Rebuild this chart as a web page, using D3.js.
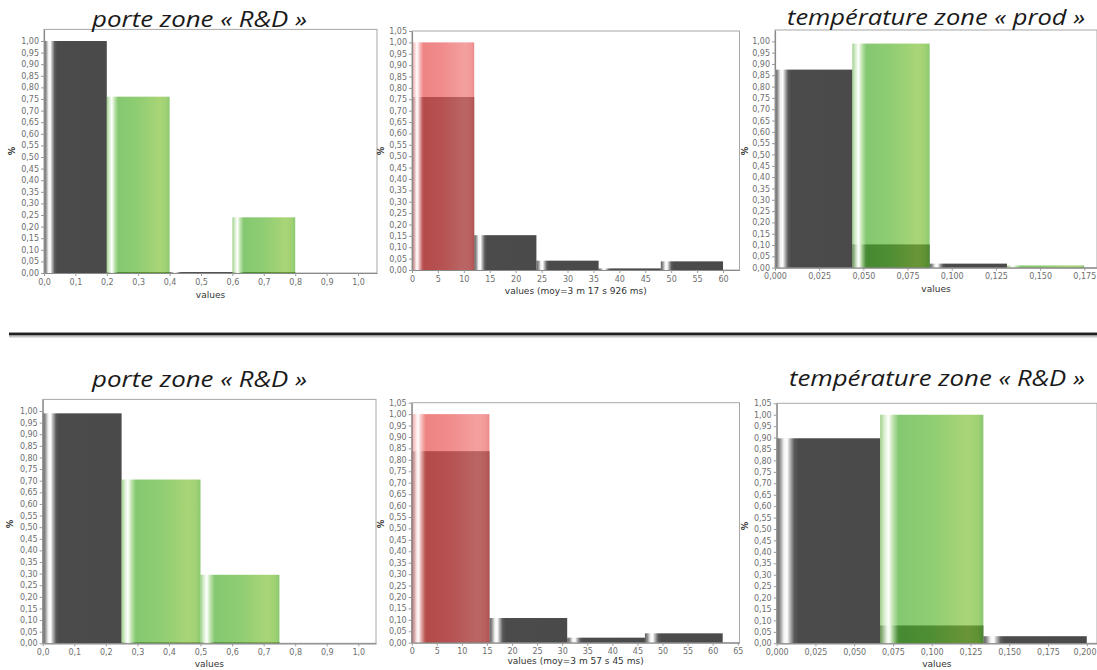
<!DOCTYPE html>
<html><head><meta charset="utf-8">
<script src="https://cdn.jsdelivr.net/npm/d3@7"></script>
<style>body{margin:0;background:#fff}svg{display:block}</style>
</head><body>
<svg id="c" width="1097" height="670"></svg>
<script>
// ---------- data ----------
const titles = ["porte zone « R&D »", "température zone « prod »", "porte zone « R&D »", "température zone « R&D »"];
const xAxisLabels = ["values", "values (moy=3 m 17 s 926 ms)", "values", "values", "values (moy=3 m 57 s 45 ms)", "values"];
const yAxisLabel = "%";

const p1Edges = [0, 0.2, 0.4, 0.6, 0.8, 1.0];
const p1Black = [1.0, 0.004, 0.004, 0.004, 0];
const p1Green = [0, 0.76, 0, 0.24, 0];

const p2Edges = [0, 12, 24, 36, 48, 60];
const p2Black = [0.76, 0.153, 0.041, 0.007, 0.038];
const p2Red = [1.0, 0, 0, 0, 0];

const p3Edges = [0, 0.04375, 0.0875, 0.13125, 0.175];
const p3Black = [0.875, 0.103, 0.018, 0];
const p3Green = [0, 0.99, 0, 0.01];

const p4Edges = [0, 0.25, 0.5, 0.75, 1.0];
const p4Black = [0.99, 0.004, 0.004, 0];
const p4Green = [0, 0.705, 0.295, 0];

const p5Edges = [0, 15.5, 31, 46.5, 62];
const p5Black = [0.838, 0.108, 0.022, 0.041];
const p5Red = [1.0, 0, 0, 0];

const p6Edges = [0, 0.0667, 0.1333, 0.2];
const p6Black = [0.897, 0.078, 0.031];
const p6Green = [0, 1.0, 0];

const yTicksTo100 = [0,0.05,0.1,0.15,0.2,0.25,0.3,0.35,0.4,0.45,0.5,0.55,0.6,0.65,0.7,0.75,0.8,0.85,0.9,0.95,1.0];
const yTicksTo105 = [0,0.05,0.1,0.15,0.2,0.25,0.3,0.35,0.4,0.45,0.5,0.55,0.6,0.65,0.7,0.75,0.8,0.85,0.9,0.95,1.0,1.05];
const xTicksUnit = [0,0.1,0.2,0.3,0.4,0.5,0.6,0.7,0.8,0.9,1.0];
const xTicks60 = [0,5,10,15,20,25,30,35,40,45,50,55,60];
const xTicks65 = [0,5,10,15,20,25,30,35,40,45,50,55,60,65];
const xTicks175 = [0,0.025,0.05,0.075,0.1,0.125,0.15,0.175];
const xTicks200 = [0,0.025,0.05,0.075,0.1,0.125,0.15,0.175,0.2];

// ---------- layout ----------
const panels = [
  {edges:p1Edges, black:p1Black, over:p1Green, kind:"green", L:44, R:377, T:29.4, B:273, xmax:1.0605, xt:xTicksUnit, xd:1, yt:yTicksTo100, lab:xAxisLabels[0], labY:298, yl:[15,151]},
  {edges:p2Edges, black:p2Black, over:p2Red, kind:"red", L:412, R:739.5, T:31, B:270, xmax:63.18, xt:xTicks60, xd:0, yt:yTicksTo105, lab:xAxisLabels[1], labY:294, yl:[384,151]},
  {edges:p3Edges, black:p3Black, over:p3Green, kind:"green", L:775, R:1097, T:30, B:267.7, xmax:0.1822, xt:xTicks175, xd:3, yt:yTicksTo100, lab:xAxisLabels[2], labY:292, yl:[748,151]},
  {edges:p4Edges, black:p4Black, over:p4Green, kind:"green", L:42.7, R:376, T:399.4, B:643.3, xmax:1.056, xt:xTicksUnit, xd:1, yt:yTicksTo100, lab:xAxisLabels[3], labY:667, yl:[13,524]},
  {edges:p5Edges, black:p5Black, over:p5Red, kind:"red", L:411.7, R:739.5, T:402.7, B:642.7, xmax:65.35, xt:xTicks65, xd:0, yt:yTicksTo105, lab:xAxisLabels[4], labY:664, yl:[384,524]},
  {edges:p6Edges, black:p6Black, over:p6Green, kind:"green", L:776.7, R:1097, T:403.3, B:643.3, xmax:0.2066, xt:xTicks200, xd:3, yt:yTicksTo105, lab:xAxisLabels[5], labY:667, yl:[748,526]}
];
const titlePos = [
  {x:199.5, y:27, w:215},
  {x:936, y:25, w:298},
  {x:199.5, y:386.5, w:215},
  {x:937, y:385.5, w:296}
];

const svg = d3.select("#c");
const defs = svg.append("defs");

function grad(id, stops, opacity) {
  const g = defs.append("linearGradient").attr("id", id)
    .attr("x1", 0).attr("x2", 1).attr("y1", 0).attr("y2", 0);
  stops.forEach(s => g.append("stop").attr("offset", s[0]).attr("stop-color", s[1]).attr("stop-opacity", opacity));
}
grad("gBlack", [[0,"#5e5e5e"],[0.03,"#8c8c8c"],[0.07,"#f2f2f2"],[0.1,"#ffffff"],[0.13,"#b4b4b4"],[0.17,"#5a5a5a"],[0.21,"#4a4b4a"],[1,"#494a49"]], 1);
grad("gGreen", [[0,"rgb(107,184,75)"],[0.04,"rgb(195,229,181)"],[0.08,"rgb(255,255,255)"],[0.12,"rgb(164,217,140)"],[0.18,"rgb(66,170,36)"],[0.5,"rgb(84,178,40)"],[0.85,"rgb(123,190,45)"],[0.95,"rgb(106,184,40)"],[1,"rgb(72,170,34)"]], 0.65);
grad("gRed", [[0,"rgb(233,115,115)"],[0.04,"rgb(245,186,186)"],[0.08,"rgb(255,255,255)"],[0.12,"rgb(245,168,168)"],[0.18,"rgb(230,74,74)"],[0.5,"rgb(233,86,86)"],[0.85,"rgb(239,115,115)"],[0.95,"rgb(236,104,104)"],[1,"rgb(227,83,83)"]], 0.68);
const sh = defs.append("linearGradient").attr("id","gShadow").attr("x1",0).attr("x2",0).attr("y1",0).attr("y2",1);
sh.append("stop").attr("offset",0).attr("stop-color","#a8a8a8");
sh.append("stop").attr("offset",1).attr("stop-color","#ffffff");

function fmt(d, n) { return d.toFixed(n).replace(".", ","); }

panels.forEach(p => {
  const g = svg.append("g");
  const xs = d3.scaleLinear().domain([0, p.xmax]).range([p.L, p.R]);
  const ys = d3.scaleLinear().domain([0, 1.05]).range([p.B, p.T]);
  g.append("rect").attr("x", p.L).attr("y", p.T).attr("width", p.R - p.L).attr("height", p.B - p.T)
    .attr("fill", "#fff").attr("stroke", "#a8a8a8").attr("stroke-width", 1);
  const bins = p.edges.slice(0, -1).map((e, i) => ({x0: e, x1: p.edges[i + 1], b: p.black[i], o: p.over[i]}));
  g.selectAll("rect.blk").data(bins.filter(d => d.b > 0)).enter().append("rect").attr("class", "blk")
    .attr("x", d => xs(d.x0)).attr("width", d => xs(d.x1) - xs(d.x0))
    .attr("y", d => ys(d.b)).attr("height", d => Math.max(1, ys(0) - ys(d.b)))
    .attr("fill", "url(#gBlack)");
  g.selectAll("rect.ovr").data(bins.filter(d => d.o > 0)).enter().append("rect").attr("class", "ovr")
    .attr("x", d => xs(d.x0)).attr("width", d => xs(d.x1) - xs(d.x0))
    .attr("y", d => ys(d.o)).attr("height", d => Math.max(1, ys(0) - ys(d.o)))
    .attr("fill", p.kind === "green" ? "url(#gGreen)" : "url(#gRed)");
  const ya = g.append("g").attr("transform", `translate(${p.L},0)`)
    .call(d3.axisLeft(ys).tickValues(p.yt).tickFormat(d => fmt(d, 2)).tickSize(3).tickSizeOuter(0));
  const xa = g.append("g").attr("transform", `translate(0,${p.B})`)
    .call(d3.axisBottom(xs).tickValues(p.xt).tickFormat(d => p.xd ? fmt(d, p.xd) : String(d)).tickSize(3).tickSizeOuter(0));
  [ya, xa].forEach(a => {
    a.select(".domain").attr("stroke", "#8a8a8a").attr("stroke-width", 1.2);
    a.selectAll(".tick line").attr("stroke", "#999");
    a.selectAll(".tick text").attr("fill", "#6e6e6e").style("font-family", "DejaVu Sans").style("font-size", "8px");
  });
  ya.selectAll(".tick text").attr("x", -5);
  xa.selectAll(".tick text").attr("y", 6);
  // keep labels inside the picture
  xa.selectAll(".tick").each(function(d) {
    const t = d3.select(this).select("text");
    const w = this.querySelector("text").getComputedTextLength();
    const over = xs(d) + w / 2 - 1096;
    if (over > 0) t.attr("dx", -over);
  });
  g.append("text").attr("x", (p.L + p.R) / 2).attr("y", p.labY)
    .attr("text-anchor", "middle").attr("fill", "#333")
    .style("font-family", "DejaVu Sans").style("font-size", "9px").text(p.lab);
  g.append("text").attr("transform", `translate(${p.yl[0]},${p.yl[1]}) rotate(-90)`)
    .attr("text-anchor", "middle").attr("fill", "#333")
    .style("font-family", "DejaVu Sans").style("font-size", "8.5px").style("font-weight", "bold").text(yAxisLabel);
});

// separator
svg.append("rect").attr("x", 9).attr("y", 332).attr("width", 1088).attr("height", 1).attr("fill", "#9a9a9a");
svg.append("rect").attr("x", 9).attr("y", 333).attr("width", 1088).attr("height", 2.5).attr("fill", "#231f20");
svg.append("rect").attr("x", 9).attr("y", 335.5).attr("width", 1088).attr("height", 3).attr("fill", "url(#gShadow)");

// titles
titles.forEach((t, i) => {
  svg.append("text").attr("x", titlePos[i].x).attr("y", titlePos[i].y)
    .attr("text-anchor", "middle").attr("fill", "#1a1a1a")
    .attr("textLength", titlePos[i].w).attr("lengthAdjust", "spacingAndGlyphs")
    .style("font-family", "Open Sans").style("font-style", "italic").style("font-size", "21px")
    .text(t);
});
</script>
</body></html>
